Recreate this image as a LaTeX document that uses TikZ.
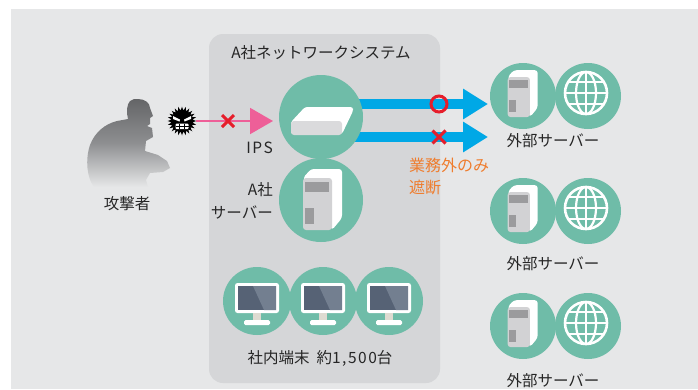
\documentclass[tikz,border=0pt]{standalone}
\usepackage{fontspec}
\setmainfont{Noto Sans CJK JP}
\usetikzlibrary{arrows.meta,calc,backgrounds}

\definecolor{bgout}{HTML}{E6E7E8}
\definecolor{panel}{HTML}{D5D6D8}
\definecolor{icontl}{HTML}{6FBCA8}
\definecolor{flow}{HTML}{00A8E6}
\definecolor{attack}{HTML}{EE5F98}
\definecolor{ngred}{HTML}{E61E2B}
\definecolor{notecol}{HTML}{EF7D2E}
\definecolor{txt}{HTML}{262626}
\definecolor{scrdark}{HTML}{566275}
\definecolor{scrlight}{HTML}{737F90}
\definecolor{towerface}{HTML}{D2D2D4}
\definecolor{slot}{HTML}{9B9B9D}
\definecolor{neck}{HTML}{DEDBD1}
\definecolor{slabfront}{HTML}{DADADC}
\definecolor{figtop}{HTML}{646567}
\definecolor{figmid}{HTML}{8E8F91}

\newcommand{\widelatin}[1]{{\addfontfeatures{LetterSpace=10}#1}}

\tikzset{
  disc/.style={circle, fill=icontl, inner sep=0pt, minimum size=#1},
  lbl/.style={text=txt, font=\fontsize{15.5}{18}\selectfont, inner sep=0pt},
  notelbl/.style={text=notecol, font=\fontsize{16}{19}\selectfont, inner sep=0pt, anchor=west},
  link/.style={flow, line width=7pt},
  flowarrow/.style={flow, line width=10pt, -{Triangle[length=25pt,width=29pt]}},
  attackline/.style={attack, line width=2pt, -{Triangle[length=23pt,width=26pt]}},
  okmark/.style={circle, draw=ngred, line width=3pt, minimum size=16pt, inner sep=0pt},
  ngcross/.style={ngred, line width=3pt},
  % server tower icon
  tower/.pic={
    \fill[white, rounded corners=3pt] (-18,-22) -- (-10,-31) -- (21,-31) -- (21,18) -- (11,30) -- cycle;
    \fill[towerface, rounded corners=3pt] (-18,-22) rectangle (11,30);
    \fill[slot] (-16,-18) rectangle (8,-8);
    \fill[slot] (-16,8) rectangle (-7,24);
  },
  % globe icon
  globe/.pic={
    \draw[white, line width=2.6pt] (0,0) circle (21);
    \draw[white, line width=2.2pt] (0,0) ellipse (10 and 21);
    \draw[white, line width=2.2pt] (0,-21) -- (0,21) (-21,0) -- (21,0)
      (-17.9,-11) -- (17.9,-11) (-17.9,11) -- (17.9,11);
  },
  % desktop monitor icon
  monitor/.pic={
    \fill[white, rounded corners=2.5pt] (-22,-18) rectangle (22,12);
    \fill[scrdark] (-19,-15) rectangle (19,9);
    \fill[scrlight] (-4,-15) -- (19,-15) -- (19,9) -- (7,9) -- cycle;
    \fill[neck] (-4,12) rectangle (4,20);
    \fill[white, rounded corners=1.5pt] (-13,19) rectangle (13,24);
  },
  % IPS appliance
  slab/.pic={
    \fill[white, rounded corners=2.5pt] (-30,5) -- (-16,-10) -- (32,-10) -- (32,-6) -- (21,17) -- (-30,17) -- cycle;
    \fill[slabfront, rounded corners=3pt] (-30,4) rectangle (21,18);
  },
  % malware badge
  virus/.pic={
    \fill[black] plot[domain=0:360, samples=241, smooth]
      ({cos(\x)*(11+3.5*(1-abs(sin(12*\x))))}, {sin(\x)*(11+3.5*(1-abs(sin(12*\x))))});
    \fill[white] (-9,-5) -- (-2,-1.5) -- (-2.5,0.5) -- (-9,-2) -- cycle;
    \fill[white] (9,-5) -- (2,-1.5) -- (2.5,0.5) -- (9,-2) -- cycle;
    \fill[white, rounded corners=1pt] (-6.5,2.5) rectangle (6.5,8);
    \draw[black, line width=0.8pt] (-2.2,2.5) -- (-2.2,8) (2.2,2.5) -- (2.2,8) (-6.5,5.2) -- (6.5,5.2);
  }
}

\begin{document}
\begin{tikzpicture}[x=1pt, y=-1pt]
\useasboundingbox (0,0) rectangle (698,389);

% ---------- icons ----------
\node[disc=84pt] (ips) at (321,117) {};
\node[disc=84pt] (srv) at (321,200) {};
\pic at (ips.center) {slab};
\pic at (srv.center) {tower};

\node[disc=68pt] (pc1) at (257,301) {};
\node[disc=68pt] (pc2) at (323,301) {};
\node[disc=68pt] (pc3) at (389,301) {};
\foreach \p in {pc1,pc2,pc3} \pic at (\p.center) {monitor};

\foreach \i/\yy in {1/96, 2/211, 3/326} {
  \node[disc=66pt] (ext\i s) at (523,\yy) {};
  \node[disc=66pt] (ext\i g) at (588,\yy) {};
  \pic[scale=0.77] at ($(ext\i s.center)+(-1.5,-2)$) {tower};
  \pic at ($(ext\i g.center)+(-2,-3)$) {globe};
}

% ---------- attacker (crouching silhouette) ----------
\shade[top color=figtop, bottom color=bgout, middle color=figmid]
  (138,99) .. controls (145,99) and (150,103) .. (150,108)
  -- (153,116) -- (150,118) -- (150,124) -- (147,126)
  -- (152,128) -- (153,137) -- (146,141)
  -- (145,151) -- (158,155) -- (167,161) -- (170,168) -- (163,172)
  -- (150,173) -- (146,180) -- (148,187) -- (94,187)
  .. controls (87,178) and (85,160) .. (90,145)
  .. controls (95,132) and (105,124) .. (117,121)
  -- (128,119)
  .. controls (126,112) and (127,104) .. (130,101)
  .. controls (132,99) and (135,99) .. (138,99) -- cycle;
\node[lbl] (attacker) at (127,204) {攻撃者};

\node[inner sep=0pt, minimum size=28pt] (virus) at (182,121) {};
\pic at (virus.center) {virus};

% ---------- connectors ----------
\coordinate (ipsTip) at (273,121);
\coordinate (okTip) at (488,104);
\coordinate (ngTip) at (488,137);

\begin{scope}[on background layer]
  \fill[bgout] (11,9) rectangle (698,389);
  \fill[panel, rounded corners=14pt] (209,34) rectangle (440,383);
  \draw[link] ($(ips.center)+(-11.5,0)$) -- ($(ips.center)+(-11.5,0)$ |- pc2.center);
  \draw[link] ($(ips.center)+(11.5,0)$) -- ($(ips.center)+(11.5,0)$ |- pc2.center);
  \draw[flowarrow] ($(ips.center)+(0,-13)$) -- (okTip);
  \draw[flowarrow] ($(ips.center)+(0,20)$) -- (ngTip);
\end{scope}

\draw[attackline] (virus.east) -- (ipsTip);
\draw[ngcross] (228,121) +(-6,-6) -- +(6,6) +(-6,6) -- +(6,-6);

\node[okmark] (okmk) at (439,104) {};
\draw[ngcross] (439,137) +(-6.5,-6.5) -- +(6.5,6.5) +(-6.5,6.5) -- +(6.5,-6.5);

% ---------- labels ----------
\node[lbl] (systitle) at (321,53) {A社ネットワークシステム};
\node[lbl, anchor=east] (ipslbl) at (273,148) {\widelatin{IPS}};
\node[lbl, anchor=east] (srvlbl1) at (273,190) {A社};
\node[lbl, anchor=east] (srvlbl2) at (273,213) {サーバー};
\node[lbl] (pclbl) at (320,358) {社内端末\hspace{0.45em}約\widelatin{1,500}台};
\node[notelbl] (note1) at (409,165) {業務外のみ};
\node[notelbl] (note2) at (409,187) {遮断};
\node[lbl] (extlbl1) at (553,141) {外部サーバー};
\node[lbl] (extlbl2) at (553,264) {外部サーバー};
\node[lbl] (extlbl3) at (553,381) {外部サーバー};
\end{tikzpicture}
\end{document}
